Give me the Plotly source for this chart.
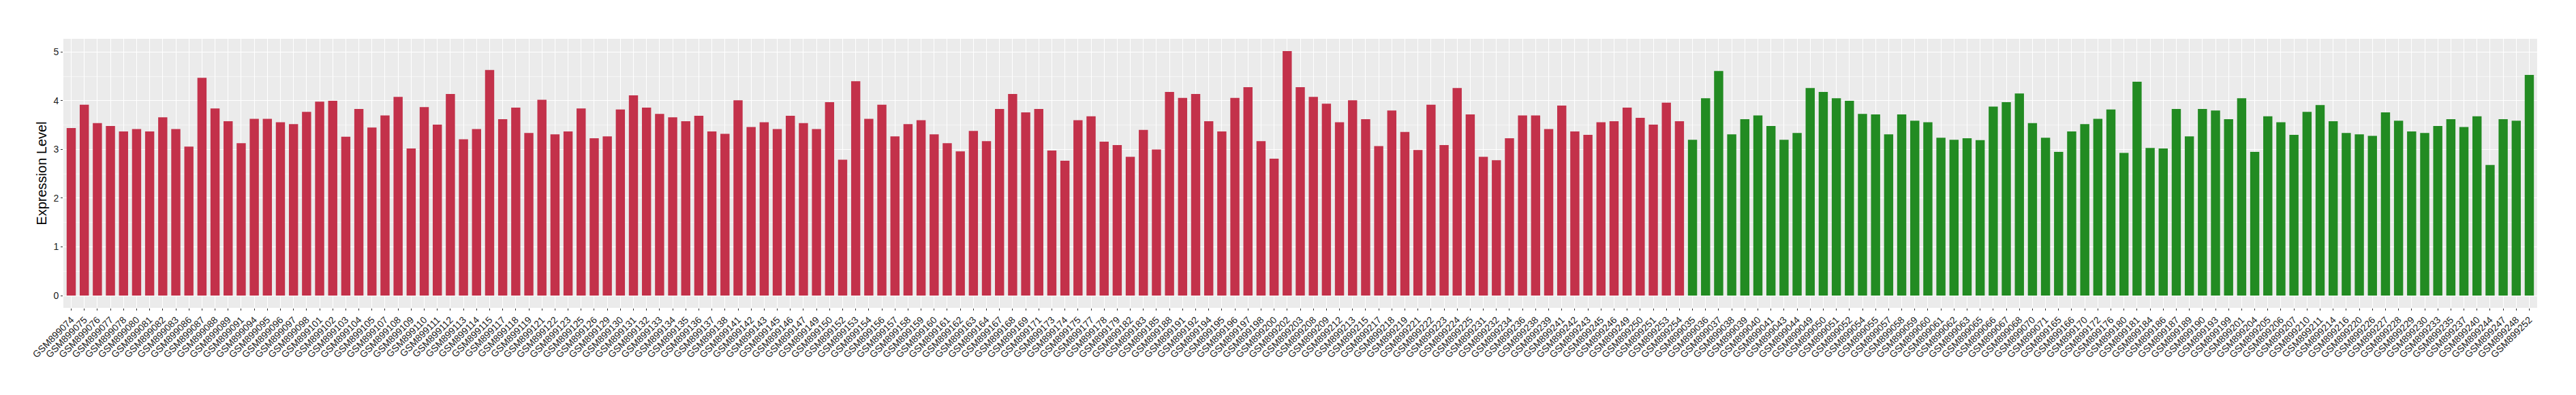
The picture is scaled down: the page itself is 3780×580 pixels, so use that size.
import plotly.graph_objects as go

red_samples = ["GSM899074","GSM899075","GSM899076","GSM899077","GSM899078","GSM899080","GSM899081","GSM899082","GSM899083","GSM899086",
"GSM899087","GSM899088","GSM899089","GSM899091","GSM899094","GSM899095","GSM899096","GSM899097","GSM899098","GSM899101",
"GSM899102","GSM899103","GSM899104","GSM899105","GSM899107","GSM899108","GSM899109","GSM899110","GSM899111","GSM899112",
"GSM899113","GSM899114","GSM899115","GSM899117","GSM899118","GSM899119","GSM899121","GSM899122","GSM899123","GSM899125",
"GSM899126","GSM899129","GSM899130","GSM899131","GSM899132","GSM899133","GSM899134","GSM899135","GSM899136","GSM899137",
"GSM899138","GSM899141","GSM899142","GSM899143","GSM899145","GSM899146","GSM899147","GSM899149","GSM899150","GSM899152",
"GSM899153","GSM899154","GSM899156","GSM899157","GSM899158","GSM899159","GSM899160","GSM899161","GSM899162","GSM899163",
"GSM899164","GSM899167","GSM899168","GSM899169","GSM899171","GSM899173","GSM899174","GSM899175","GSM899177","GSM899178",
"GSM899179","GSM899182","GSM899183","GSM899185","GSM899188","GSM899191","GSM899192","GSM899194","GSM899195","GSM899196",
"GSM899197","GSM899198","GSM899200","GSM899202","GSM899203","GSM899208","GSM899209","GSM899212","GSM899213","GSM899215",
"GSM899217","GSM899218","GSM899219","GSM899221","GSM899222","GSM899223","GSM899224","GSM899225","GSM899231","GSM899232",
"GSM899234","GSM899236","GSM899238","GSM899239","GSM899241","GSM899242","GSM899243","GSM899245","GSM899246","GSM899249",
"GSM899250","GSM899251","GSM899253","GSM899254"]
red_values = [3.44,3.92,3.54,3.48,3.37,3.42,3.37,3.66,3.42,3.06,
4.47,3.84,3.58,3.13,3.63,3.63,3.56,3.52,3.77,3.98,
4.00,3.26,3.83,3.45,3.70,4.08,3.02,3.87,3.51,4.14,
3.21,3.42,4.63,3.62,3.86,3.34,4.02,3.31,3.37,3.84,
3.23,3.27,3.82,4.11,3.86,3.73,3.66,3.58,3.69,3.37,
3.32,4.01,3.46,3.56,3.42,3.69,3.54,3.42,3.97,2.79,
4.40,3.63,3.92,3.27,3.52,3.60,3.31,3.13,2.96,3.38,
3.17,3.83,4.14,3.76,3.83,2.98,2.77,3.60,3.68,3.16,
3.09,2.85,3.40,3.00,4.18,4.06,4.14,3.58,3.37,4.06,
4.28,3.17,2.81,5.02,4.28,4.08,3.94,3.56,4.01,3.62,
3.07,3.80,3.36,2.99,3.92,3.09,4.26,3.72,2.85,2.78,
3.23,3.70,3.70,3.42,3.90,3.37,3.30,3.56,3.58,3.86,
3.65,3.51,3.96,3.58]

green_samples = ["GSM899035","GSM899036","GSM899037","GSM899038","GSM899039","GSM899040","GSM899041","GSM899043","GSM899044","GSM899049",
"GSM899050","GSM899051","GSM899052","GSM899054","GSM899055","GSM899057","GSM899058","GSM899059","GSM899060","GSM899061",
"GSM899062","GSM899063","GSM899065","GSM899066","GSM899067","GSM899068","GSM899070","GSM899071","GSM899165","GSM899166",
"GSM899170","GSM899172","GSM899176","GSM899180","GSM899181","GSM899184","GSM899186","GSM899187","GSM899189","GSM899190",
"GSM899193","GSM899199","GSM899201","GSM899204","GSM899205","GSM899206","GSM899207","GSM899210","GSM899211","GSM899214",
"GSM899216","GSM899220","GSM899226","GSM899227","GSM899228","GSM899229","GSM899230","GSM899233","GSM899235","GSM899237",
"GSM899240","GSM899244","GSM899247","GSM899248","GSM899252"]
green_values = [3.20,4.05,4.61,3.31,3.62,3.70,3.48,3.20,3.34,4.26,
4.18,4.05,4.00,3.73,3.72,3.31,3.72,3.59,3.56,3.24,
3.20,3.23,3.19,3.88,3.97,4.15,3.54,3.24,2.95,3.37,
3.52,3.63,3.82,2.93,4.39,3.03,3.02,3.83,3.27,3.83,
3.80,3.62,4.05,2.95,3.68,3.56,3.30,3.77,3.91,3.58,
3.34,3.31,3.28,3.76,3.59,3.37,3.34,3.48,3.62,3.46,
3.68,2.68,3.62,3.59,4.53]

red_color = "#C3314A"
green_color = "#228B22"

samples = red_samples + green_samples
values = red_values + green_values
colors = [red_color] * len(red_samples) + [green_color] * len(green_samples)

fig = go.Figure(go.Bar(x=samples, y=values, marker=dict(color=colors, line=dict(width=0)),
                       width=0.7, showlegend=False, hoverinfo="skip"))

n = len(samples)
ymax = max(values)
fig.update_layout(
    width=3780, height=580,
    margin=dict(l=93, r=57, t=57, b=128, pad=0),
    paper_bgcolor="white", plot_bgcolor="#EBEBEB",
    font=dict(family="Liberation Sans, Arial, sans-serif", color="#222222"),
    bargap=0.3,
)
fig.update_xaxes(
    type="category", categoryorder="array", categoryarray=samples,
    range=[-0.6, n - 1 + 0.6], tickangle=-45, automargin=False,
    showgrid=True, gridcolor="white", gridwidth=1.3,
    ticks="outside", ticklen=3, tickcolor="#333333", tickwidth=1,
    tickfont=dict(size=14, color="#1a1a1a"),
    showline=False, zeroline=False,
)
fig.update_yaxes(
    range=[-0.05 * ymax, ymax * 1.05], tickmode="linear", tick0=0, dtick=1,
    automargin=False,
    showgrid=True, gridcolor="white", gridwidth=1.3,
    minor=dict(dtick=0.5, tick0=0, showgrid=True, gridcolor="#F5F5F5", gridwidth=0.7, ticks=""),
    ticks="outside", ticklen=3, tickcolor="#333333", tickwidth=1,
    tickfont=dict(size=14, color="#1a1a1a"),
    title=dict(text="Expression Level", font=dict(size=20, color="black"), standoff=4),
    showline=False, zeroline=False,
)

fig.write_html("out.html", config={"displayModeBar": False},
               post_script="document.body.style.margin='0';document.body.style.overflow='hidden';")
